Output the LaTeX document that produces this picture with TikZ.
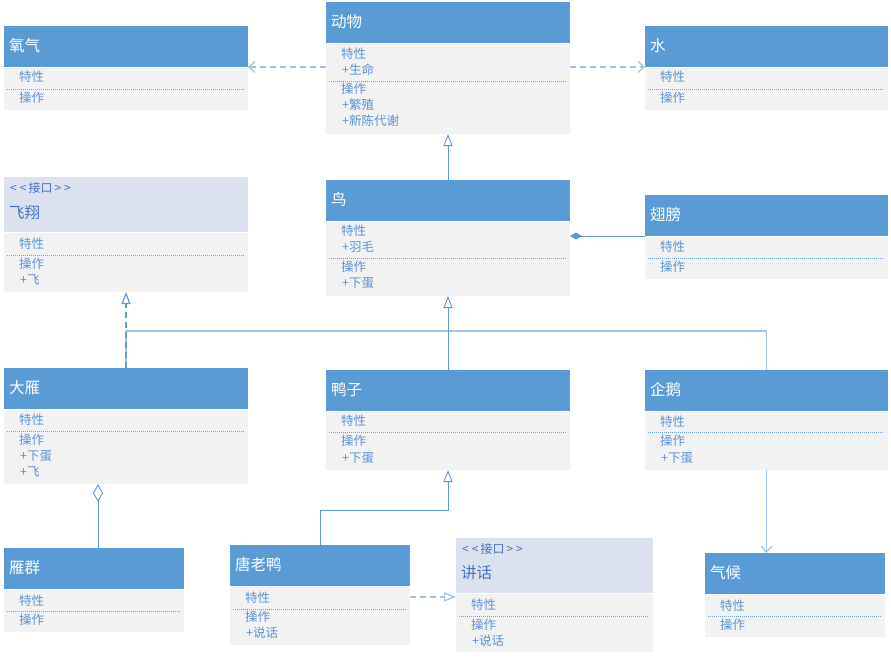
\documentclass[tikz,border=0pt]{standalone}
\usepackage{fontspec}
\newfontfamily\cjk{Noto Sans CJK SC}
\usetikzlibrary{arrows.meta}
\definecolor{hb}{HTML}{5B9BD5}
\definecolor{ib}{HTML}{DCE1EF}
\definecolor{bg}{HTML}{F2F2F2}
\definecolor{bt}{HTML}{5B93D3}
\definecolor{ic}{HTML}{4472C4}
\definecolor{lc}{HTML}{5B9BD5}
\definecolor{lc2}{HTML}{9DC3E6}
\definecolor{sc}{HTML}{6FA3DA}
\tikzset{
 hdr/.style={fill=hb, draw=none, anchor=north west, inner sep=0, outer sep=0},
 ihdr/.style={hdr, fill=ib},
 bdy/.style={fill=bg, draw=none, anchor=north west, inner sep=0, outer sep=0},
 ttl/.style={anchor=west, font=\cjk\fontsize{15.5}{18}\selectfont, text=white, inner sep=0},
 ittl/.style={ttl, text=ic},
 stereo/.style={anchor=west, font=\cjk\fontsize{12}{14}\selectfont, text=ic, inner sep=0},
 btxt/.style={anchor=west, font=\cjk\fontsize{12.5}{14}\selectfont, text=bt, inner sep=0},
 sep/.style={draw=sc, line width=0.7pt, dash pattern=on 1pt off 1pt},
 conn/.style={draw=lc, line width=0.9pt},
 lconn/.style={draw=lc2, line width=1.2pt},
 dconn/.style={draw=lc2, line width=1.2pt, dash pattern=on 6pt off 4pt},
 dep/.style={-{Straight Barb[length=6pt,width=11pt]}},
 gen/.style={-{Triangle[open,length=12pt,width=9pt,fill=white]}},
 comp/.style={-{Diamond[length=12pt,width=7pt]}},
 aggr/.style={-{Diamond[open,length=18pt,width=10pt,fill=white]}},
}
% name, x, y, w, header h, body h
\newcommand\clsbox[6]{%
  \node[hdr, minimum width=#4pt, minimum height=#5pt] (#1H) at (#2,#3) {};
  \node[bdy, minimum width=#4pt, minimum height=#6pt] (#1B) at (#2,{#3+#5+1}) {};
}
\newcommand\ifcbox[6]{%
  \node[ihdr, minimum width=#4pt, minimum height=#5pt] (#1H) at (#2,#3) {};
  \node[bdy, minimum width=#4pt, minimum height=#6pt] (#1B) at (#2,{#3+#5+1}) {};
}
\newcommand\stlbl{<\hspace{3pt}<\hspace{2pt}接口\hspace{2pt}>\hspace{3pt}>}
\begin{document}
\begin{tikzpicture}[x=1pt,y=-1pt]
\useasboundingbox[fill=white] (0,0) rectangle (891,657);

% 氧气
\clsbox{oxy}{4}{26}{244}{41}{42}
\node[ttl] (oxyT) at (9,46) {氧气};
\node[btxt] (oxy1) at (19,77) {特性};
\draw[sep] (7,89) -- (244,89);
\node[btxt] (oxy2) at (19,98) {操作};

% 动物
\clsbox{anim}{326}{2}{244}{41}{90}
\node[ttl] (animT) at (331,22) {动物};
\node[btxt] (anim1) at (341,54) {特性};
\node[btxt] (anim2) at (342,70) {+生命};
\draw[sep] (329,81) -- (566,81);
\node[btxt] (anim3) at (341,89) {操作};
\node[btxt] (anim4) at (342,105) {+繁殖};
\node[btxt] (anim5) at (342,121) {+新陈代谢};

% 水
\clsbox{water}{645}{26}{243}{41}{42}
\node[ttl] (waterT) at (650,46) {水};
\node[btxt] (water1) at (660,77) {特性};
\draw[sep] (648,89) -- (884,89);
\node[btxt] (water2) at (660,98) {操作};

% 飞翔
\ifcbox{fly}{4}{177}{244}{55}{59}
\node[stereo] (flyS) at (10,188) {\stlbl};
\node[ittl] (flyT) at (9,213) {飞翔};
\node[btxt] (fly1) at (19,244) {特性};
\draw[sep] (7,255) -- (244,255);
\node[btxt] (fly2) at (19,264) {操作};
\node[btxt] (fly3) at (20,280) {+飞};

% 鸟
\clsbox{bird}{326}{180}{244}{41}{74}
\node[ttl] (birdT) at (331,200) {鸟};
\node[btxt] (bird1) at (341,231) {特性};
\node[btxt] (bird2) at (342,247) {+羽毛};
\draw[sep] (329,258) -- (566,258);
\node[btxt] (bird3) at (341,267) {操作};
\node[btxt] (bird4) at (342,283) {+下蛋};

% 翅膀
\clsbox{wing}{645}{195}{243}{41}{42}
\node[ttl] (wingT) at (650,215) {翅膀};
\node[btxt] (wing1) at (660,247) {特性};
\draw[sep] (648,258) -- (884,258);
\node[btxt] (wing2) at (660,267) {操作};

% 大雁
\clsbox{geese}{4}{368}{244}{41}{74}
\node[ttl] (geeseT) at (9,388) {大雁};
\node[btxt] (geese1) at (19,420) {特性};
\draw[sep] (7,431) -- (244,431);
\node[btxt] (geese2) at (19,440) {操作};
\node[btxt] (geese3) at (20,456) {+下蛋};
\node[btxt] (geese4) at (20,472) {+飞};

% 鸭子
\clsbox{duck}{326}{370}{244}{41}{58}
\node[ttl] (duckT) at (331,390) {鸭子};
\node[btxt] (duck1) at (341,421) {特性};
\draw[sep] (329,432) -- (566,432);
\node[btxt] (duck2) at (341,441) {操作};
\node[btxt] (duck3) at (342,458) {+下蛋};

% 企鹅
\clsbox{peng}{645}{370}{243}{41}{58}
\node[ttl] (pengT) at (650,390) {企鹅};
\node[btxt] (peng1) at (660,422) {特性};
\draw[sep] (648,432) -- (884,432);
\node[btxt] (peng2) at (660,441) {操作};
\node[btxt] (peng3) at (661,458) {+下蛋};

% 雁群
\clsbox{flock}{4}{548}{180}{41}{42}
\node[ttl] (flockT) at (9,568) {雁群};
\node[btxt] (flock1) at (19,601) {特性};
\draw[sep] (7,611) -- (180,611);
\node[btxt] (flock2) at (19,620) {操作};

% 唐老鸭
\clsbox{don}{230}{545}{180}{41}{58}
\node[ttl] (donT) at (235,565) {唐老鸭};
\node[btxt] (don1) at (245,598) {特性};
\draw[sep] (233,609) -- (406,609);
\node[btxt] (don2) at (245,617) {操作};
\node[btxt] (don3) at (246,633) {+说话};

% 讲话
\ifcbox{talk}{456}{538}{197}{55}{58}
\node[stereo] (talkS) at (462,549) {\stlbl};
\node[ittl] (talkT) at (461,573) {讲话};
\node[btxt] (talk1) at (471,605) {特性};
\draw[sep] (459,616) -- (649,616);
\node[btxt] (talk2) at (471,625) {操作};
\node[btxt] (talk3) at (472,641) {+说话};

% 气候
\clsbox{clim}{705}{553}{180}{41}{42}
\node[ttl] (climT) at (710,573) {气候};
\node[btxt] (clim1) at (720,606) {特性};
\draw[sep] (708,616) -- (881,616);
\node[btxt] (clim2) at (720,625) {操作};

% connectors
\draw[dconn, dep] (oxyH.south east -| animB.west) -- (oxyH.south east);
\draw[dconn, dep] (waterH.south west -| animB.east) -- (waterH.south west);
\draw[conn, gen] (birdH.north) -- (animB.south);
\draw[conn, comp] (wingH.south west) -- (wingH.south west -| birdB.east);
\coordinate (bus) at (0,331);
\draw[lconn] (geeseH.north) |- (bus -| pengH.north) -- (pengH.north);
\draw[conn, gen] (duckH.north) -- (birdB.south);
\draw[dconn, draw=lc, gen] (geeseH.north) -- (flyB.south);
\draw[conn, aggr] ([xshift=4pt]flockH.north) -- ([xshift=4pt]flockH.north |- geeseB.south);
\coordinate (dbend) at (0,510);
\draw[conn, gen] (donH.north) |- (dbend -| duckB.south) -- (duckB.south);
\draw[dconn, gen] ([yshift=-10pt]donB.north east) -- ([yshift=-10pt]donB.north east -| talkB.west);
\draw[lconn, dep] (pengB.south) -- (pengB.south |- climH.north);
\end{tikzpicture}
\end{document}
